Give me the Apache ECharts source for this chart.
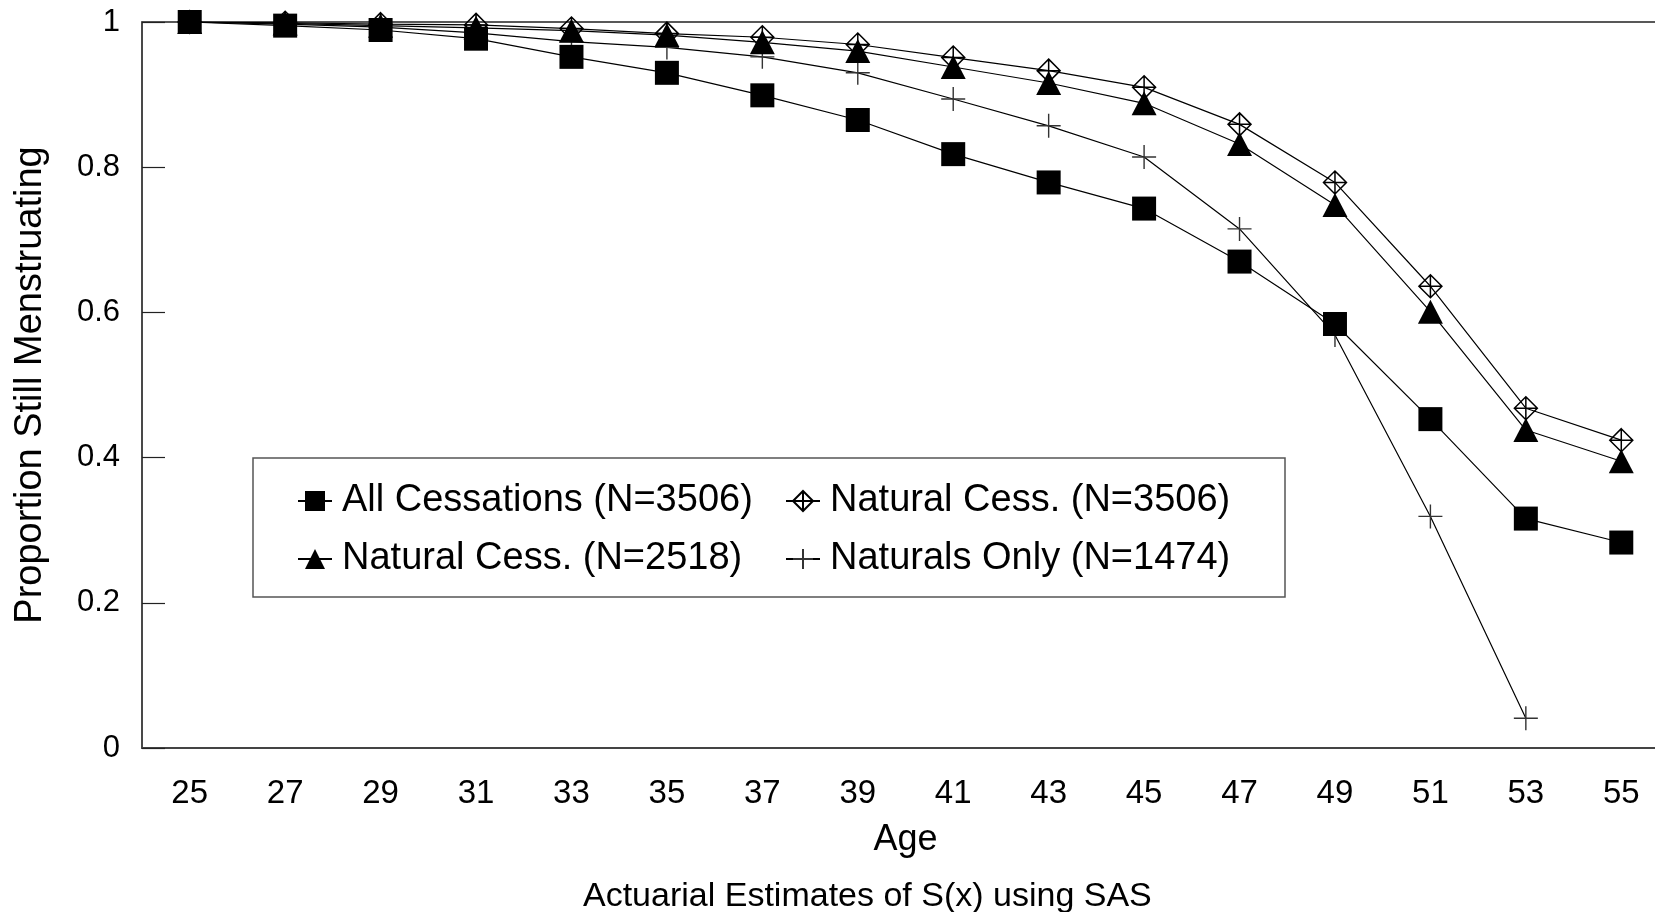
<!DOCTYPE html>
<html lang="en">
<head>
    <meta charset="UTF-8">
    <title>Actuarial Estimates of S(x)</title>
    <script src="https://cdn.jsdelivr.net/npm/echarts@6/dist/echarts.min.js"></script>
    <style>
        * { margin: 0; padding: 0; }
        body { background: #fff; }
        #main { width: 1655px; height: 912px; }
    </style>
</head>
<body>
<div id="main"></div>
<script>
    // ages (x categories)
    var ages = ['25', '27', '29', '31', '33', '35', '37', '39', '41', '43', '45', '47', '49', '51', '53', '55'];

    // proportion still menstruating
    var allCess = [1.0, 0.995, 0.989, 0.977, 0.952, 0.930, 0.899, 0.865, 0.818, 0.779, 0.743, 0.670, 0.584, 0.453, 0.316, 0.283];
    var nat3506 = [1.0, 0.999, 0.997, 0.996, 0.991, 0.984, 0.979, 0.969, 0.951, 0.933, 0.910, 0.859, 0.779, 0.636, 0.468, 0.424];
    var nat2518 = [1.0, 0.998, 0.995, 0.992, 0.988, 0.982, 0.972, 0.960, 0.938, 0.916, 0.888, 0.832, 0.748, 0.601, 0.438, 0.395];
    var natOnly = [1.0, 0.997, 0.993, 0.985, 0.973, 0.965, 0.952, 0.930, 0.894, 0.857, 0.814, 0.715, 0.569, 0.319, 0.041, null];

    var names = ['All Cessations (N=3506)', 'Natural Cess. (N=3506)', 'Natural Cess. (N=2518)', 'Naturals Only (N=1474)'];

    var FONT = '"Liberation Sans", Arial, Helvetica, sans-serif';
    var diamondPath = 'path://M12,0 L24,12 L12,24 L0,12 Z M12,0 L12,24 M0,12 L24,12';
    var plusPath = 'path://M0,12 L24,12 M12,0 L12,24';

    function line(name, data, symbol, size, item) {
        return {
            name: name,
            type: 'line',
            data: data,
            symbol: symbol,
            symbolSize: size,
            showAllSymbol: true,
            connectNulls: false,
            lineStyle: { color: '#000', width: 1.2 },
            itemStyle: item,
            emphasis: { disabled: true },
            animation: false
        };
    }

    var legendText = { fontFamily: FONT, fontSize: 38, color: '#000', lineHeight: 40, padding: [0, 0, 0, 5] };

    var myChart = echarts.init(document.getElementById('main'));
    var option = {
        backgroundColor: '#fff',
        textStyle: { fontFamily: FONT, color: '#000' },
        title: {
            text: 'Actuarial Estimates of S(x) using SAS',
            left: 578,
            top: 875,
            textStyle: { fontFamily: FONT, fontSize: 34, fontWeight: 'normal', color: '#000' }
        },
        grid: {
            left: 142, top: 22, width: 1527, height: 726,
            outerBoundsMode: 'none',
            containLabel: false,
            show: true, borderColor: '#222', borderWidth: 1.5, backgroundColor: 'transparent'
        },
        graphic: [{
            type: 'rect',
            z: 3,
            shape: { x: 253, y: 458, width: 1032, height: 139 },
            style: { fill: '#fff', stroke: '#555', lineWidth: 1.5 }
        }],
        legend: [{
            data: [names[0], names[2]],
            orient: 'vertical',
            left: 292, top: 476,
            itemWidth: 34, itemHeight: 25, itemGap: 18,
            textStyle: legendText,
            selectedMode: false
        }, {
            data: [names[1], names[3]],
            orient: 'vertical',
            left: 780, top: 476,
            itemWidth: 34, itemHeight: 25, itemGap: 18,
            textStyle: legendText,
            selectedMode: false
        }],
        xAxis: {
            type: 'category',
            data: ages,
            boundaryGap: true,
            name: 'Age',
            nameLocation: 'middle',
            nameGap: 74,
            nameTextStyle: { fontFamily: FONT, fontSize: 36, color: '#000' },
            axisLine: { lineStyle: { color: '#444', width: 2 } },
            axisTick: { inside: true, length: 15, alignWithLabel: true, lineStyle: { color: '#222', width: 1.2 } },
            axisLabel: { fontFamily: FONT, fontSize: 33, color: '#000', margin: 29 },
            splitLine: { show: false }
        },
        yAxis: {
            type: 'value',
            min: 0, max: 1, interval: 0.2,
            name: 'Proportion Still Menstruating',
            nameLocation: 'middle',
            nameGap: 92,
            nameTextStyle: { fontFamily: FONT, fontSize: 38, color: '#000' },
            axisLine: { show: true, lineStyle: { color: '#444', width: 1.5 } },
            axisTick: { show: true, inside: true, length: 23, lineStyle: { color: '#222', width: 1.2 } },
            axisLabel: { fontFamily: FONT, fontSize: 31, color: '#000', margin: 22 },
            splitLine: { show: false }
        },
        series: [
            line(names[3], natOnly, plusPath, 24, { color: 'rgba(0,0,0,0)', borderColor: '#333', borderWidth: 1.4 }),
            line(names[1], nat3506, diamondPath, 23, { color: 'rgba(0,0,0,0)', borderColor: '#000', borderWidth: 1.5 }),
            line(names[2], nat2518, 'triangle', [25, 24], { color: '#000' }),
            line(names[0], allCess, 'rect', 24, { color: '#000' })
        ]
    };
    myChart.setOption(option);
</script>
</body>
</html>
